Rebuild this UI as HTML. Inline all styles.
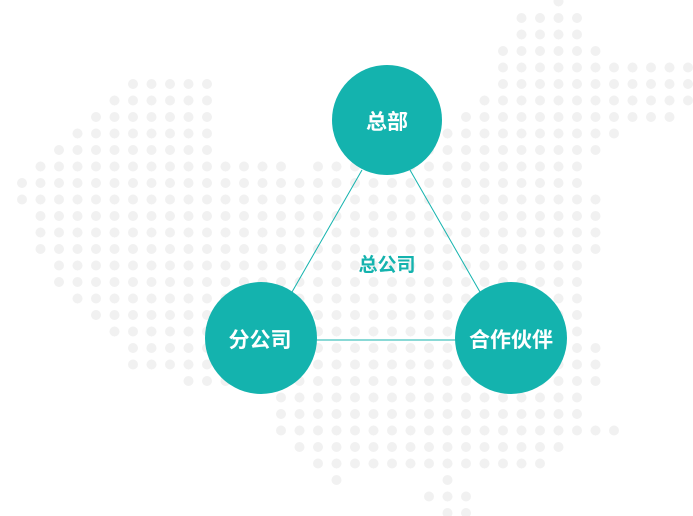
<!DOCTYPE html>
<html><head><meta charset="utf-8"><style>
html,body{margin:0;padding:0;background:#fff;width:693px;height:516px;overflow:hidden}
svg{display:block}
text{font-family:"Liberation Sans","Noto Sans CJK SC",sans-serif;font-weight:bold}
</style></head><body>
<svg id="s" width="693" height="516" viewBox="0 0 693 516">
<g id="dots" fill="#f1f1f1"></g>
<line x1="362" y1="170" x2="292" y2="292" stroke="#14b3ae" stroke-width="1"/>
<line x1="410" y1="170" x2="480" y2="292" stroke="#14b3ae" stroke-width="1"/>
<line x1="316" y1="340" x2="456" y2="340" stroke="#14b3ae" stroke-width="1"/>
<circle cx="387" cy="120" r="55" fill="#14b3ae"/>
<circle cx="261" cy="338" r="56" fill="#14b3ae"/>
<circle cx="511" cy="338" r="56" fill="#14b3ae"/>
<text x="387" y="129" font-size="21" fill="#fff" text-anchor="middle">总部</text>
<text x="260" y="347" font-size="21" fill="#fff" text-anchor="middle">分公司</text>
<text x="511" y="347" font-size="21" fill="#fff" text-anchor="middle">合作伙伴</text>
<text x="387" y="271" font-size="19" fill="#14b3ae" text-anchor="middle">总公司</text>
</svg>
<script>
var poly=[[515,10],[560,0],[590,20],[600,60],[690,65],[690,112],[620,130],[590,160],[600,220],[590,300],[600,380],[580,440],[540,470],[470,480],[420,470],[330,482],[280,440],[270,390],[200,385],[140,375],[100,320],[60,300],[30,240],[15,175],[50,150],[90,110],[130,80],[185,65],[215,90],[220,150],[300,170],[340,150],[420,140],[480,100],[500,60]];
function inside(x,y){var c=false;for(var i=0,j=poly.length-1;i<poly.length;j=i++){var a=poly[i],b=poly[j];if(((a[1]>y)!=(b[1]>y))&&(x<(b[0]-a[0])*(y-a[1])/(b[1]-a[1])+a[0]))c=!c;}return c;}
var g=document.getElementById('dots'),h='';
for(var y=150-16.5*9;y<516;y+=16.5){for(var x=22;x<693;x+=18.5){
var ok=inside(x,y)||(Math.hypot(x-450,y-500)<22)||(Math.hypot(x-605,y-430)<18);
if(ok)h+='<circle cx="'+x.toFixed(1)+'" cy="'+y.toFixed(1)+'" r="5"/>';}}
g.innerHTML=h;
</script>
</body></html>
